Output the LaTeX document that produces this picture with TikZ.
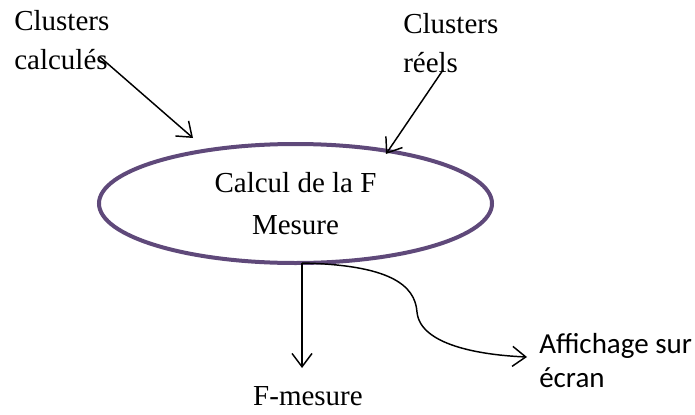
\documentclass[tikz,border=0pt]{standalone}
\usepackage{fontspec}
\setmainfont{Liberation Serif}
\newfontfamily\carlito{Carlito}
\usetikzlibrary{arrows.meta,positioning,shapes.geometric}
\definecolor{mainpurple}{RGB}{95,73,122}
\tikzset{
  etiquette/.style={inner sep=0pt, align=left, anchor=base west, font=\fontsize{21.75}{29}\selectfont},
  fleche/.style={->, line width=1.1pt},
  processus/.style={ellipse, draw=mainpurple, line width=3pt, minimum width=294.75pt, minimum height=89.25pt,
    inner sep=0pt, align=center, font=\fontsize{21.75}{31.5}\selectfont}
}

\begin{document}
\begin{tikzpicture}[x=0.75pt,y=-0.75pt,>={Straight Barb[length=10pt,width=15pt]}]
  \useasboundingbox (0,0) rectangle (695,414);
  \node[processus] (calcul) at (295.5,203.5) {Calcul de la F\\Mesure};
  \node[etiquette] (calcules) at (14,69) {Clusters\\calculés};
  \node[etiquette] (reels) at (403,72) {Clusters\\réels};
  \node[etiquette, anchor=base] (fmesure) at (308,405) {F-mesure};
  \node[etiquette, font=\carlito\fontsize{21.75}{25.5}\selectfont] (affichage) at (539,387) {Affichage sur\\écran};
  % extremites des fleches
  \coordinate (depart1) at (100,57);
  \coordinate (arrivee1) at (193,138);
  \coordinate (depart2) at (443,70);
  \coordinate (arrivee2) at (386,154);
  \coordinate (sortie) at (302,263);
  \coordinate (bas) at (302,368);
  \coordinate (ecran) at (527,357);
  \draw[fleche] (depart1) -- (arrivee1);
  \draw[fleche] (depart2) -- (arrivee2);
  \draw[fleche] (sortie) -- (bas);
  \draw[fleche] (sortie) .. controls (390,265) and (415,285) .. (417,312) .. controls (420,345) and (480,355) .. (ecran);
\end{tikzpicture}
\end{document}
